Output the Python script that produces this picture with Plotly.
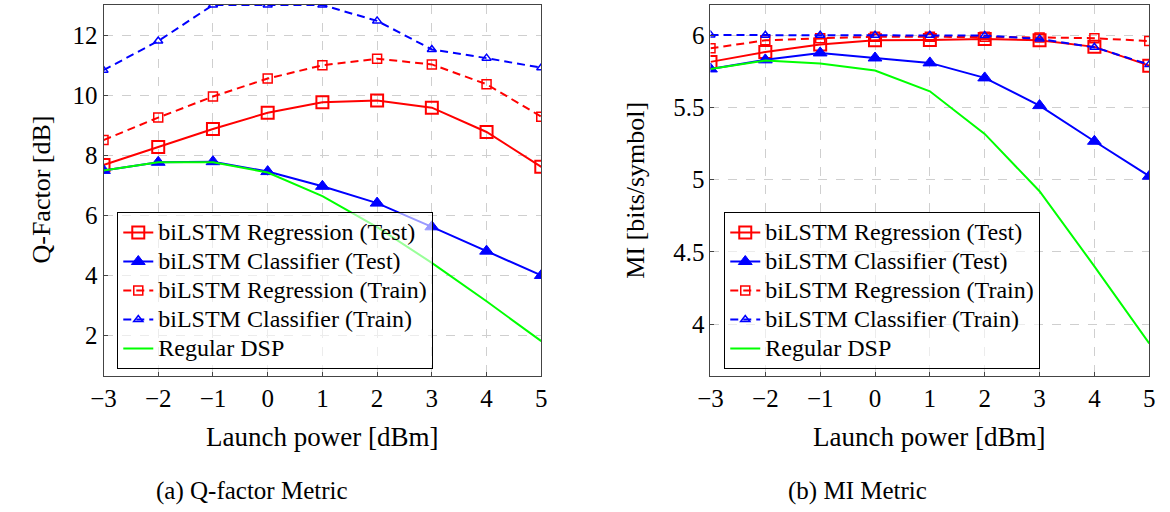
import plotly.graph_objects as go

# Launch power sweep [dBm]
launch_power = [-3, -2, -1, 0, 1, 2, 3, 4, 5]

# Q-factor [dB]
q_reg_test = [7.67, 8.27, 8.87, 9.41, 9.76, 9.82, 9.58, 8.77, 7.61]
q_cls_test = [7.49, 7.76, 7.78, 7.45, 6.96, 6.40, 5.61, 4.80, 3.99]
q_reg_train = [8.50, 9.25, 9.95, 10.55, 10.99, 11.21, 11.02, 10.36, 9.28]
q_cls_train = [10.83, 11.80, 13.0, 13.0, 13.0, 12.47, 11.52, 11.23, 10.91]
q_dsp = [7.49, 7.76, 7.76, 7.42, 6.63, 5.60, 4.41, 3.13, 1.80]

# Mutual information [bits/symbol]
mi_reg_test = [5.816, 5.885, 5.936, 5.965, 5.967, 5.975, 5.965, 5.920, 5.790]
mi_cls_test = [5.767, 5.830, 5.878, 5.843, 5.809, 5.705, 5.513, 5.266, 5.024]
mi_reg_train = [5.910, 5.965, 5.980, 5.990, 5.990, 5.990, 5.985, 5.980, 5.960]
mi_cls_train = [6.003, 6.000, 6.000, 6.000, 6.000, 5.998, 5.975, 5.917, 5.797]
mi_dsp = [5.767, 5.825, 5.804, 5.756, 5.612, 5.317, 4.920, 4.400, 3.865]

series_names = [
    "biLSTM Regression (Test)",
    "biLSTM Classifier (Test)",
    "biLSTM Regression (Train)",
    "biLSTM Classifier (Train)",
    "Regular DSP",
]

x_ticks = [-3, -2, -1, 0, 1, 2, 3, 4, 5]
x_ticktext = ["\u22123", "\u22122", "\u22121", "0", "1", "2", "3", "4", "5"]
q_ticks = [2, 4, 6, 8, 10, 12]
mi_ticks = [4, 4.5, 5, 5.5, 6]

RED = "#ff0000"
BLUE = "#0000ff"
GREEN = "#00ff00"
FONT = "Liberation Serif"
DASH = "8px,5px"

W, H = 1170, 512


def px_x(p):
    return p / W


def px_y(p):
    return 1 - p / H


def legend_label(text):
    # larger glyphs than the legend's base size, keeping the compact row pitch
    return '<span style="font-size:24px">' + text + "</span>"


styles = [
    dict(line=dict(color=RED, width=2),
         marker=dict(symbol="square-open", size=12, color=RED, line=dict(width=2, color=RED))),
    dict(line=dict(color=BLUE, width=2),
         marker=dict(symbol="triangle-up", size=12, color=BLUE, line=dict(width=1, color=BLUE))),
    dict(line=dict(color=RED, width=2, dash=DASH),
         marker=dict(symbol="square-open", size=9, color=RED, line=dict(width=1.5, color=RED))),
    dict(line=dict(color=BLUE, width=2, dash=DASH),
         marker=dict(symbol="triangle-up-open", size=8, color=BLUE, line=dict(width=1.5, color=BLUE))),
    dict(line=dict(color=GREEN, width=2), marker=None),
]

fig = go.Figure()

panels = [
    ("x", "y", "legend", [q_reg_test, q_cls_test, q_reg_train, q_cls_train, q_dsp]),
    ("x2", "y2", "legend2", [mi_reg_test, mi_cls_test, mi_reg_train, mi_cls_train, mi_dsp]),
]

for xa, ya, lg, data in panels:
    for name, vals, st in zip(series_names, data, styles):
        kw = dict(x=launch_power, y=vals, name=legend_label(name), xaxis=xa, yaxis=ya,
                  legend=lg, line=st["line"], cliponaxis=True)
        if st["marker"] is None:
            kw["mode"] = "lines"
        else:
            kw["mode"] = "lines+markers"
            kw["marker"] = st["marker"]
        fig.add_trace(go.Scatter(**kw))

axis_common = dict(
    showline=True, linecolor="#444444", linewidth=1, mirror=True,
    showgrid=True, gridcolor="#cfcfcf", gridwidth=1, griddash="dash",
    zeroline=False, ticks="inside", ticklen=4, tickcolor="#444444",
    tickfont=dict(family=FONT, size=25, color="black"),
)

y_top, y_bot = 5, 376

legend_common = dict(
    xanchor="left", yanchor="top",
    bgcolor="rgba(255,255,255,0.6)", bordercolor="black", borderwidth=1,
    font=dict(family=FONT, size=20, color="black"),
    tracegroupgap=0, itemwidth=30,
)

fig.update_layout(
    width=W, height=H,
    margin=dict(l=0, r=0, t=0, b=0),
    paper_bgcolor="white", plot_bgcolor="white",
    font=dict(family=FONT, color="black"),
    xaxis=dict(domain=[px_x(92), px_x(537)], range=[-3, 5], tickvals=x_ticks,
               ticktext=x_ticktext, anchor="y", **axis_common),
    yaxis=dict(domain=[px_y(y_bot), px_y(y_top)], range=[0.64, 13.0],
               tickvals=q_ticks, anchor="x", **axis_common),
    xaxis2=dict(domain=[px_x(709), px_x(1155)], range=[-3, 5], tickvals=x_ticks,
                ticktext=x_ticktext, anchor="y2", **axis_common),
    yaxis2=dict(domain=[px_y(y_bot), px_y(y_top)], range=[3.64, 6.21],
                tickvals=mi_ticks, ticktext=["4", "4.5", "5", "5.5", "6"],
                anchor="x2", **axis_common),
    legend=dict(x=px_x(106), y=px_y(212), **legend_common),
    legend2=dict(x=px_x(723), y=px_y(212), **legend_common),
    showlegend=True,
)

# Axis titles and sub-captions: (x px, y px, text, angle, size)
texts = [
    (314, 437, "Launch power [dBm]", 0, 27),
    (931, 437, "Launch power [dBm]", 0, 27),
    (28, 190, "Q-Factor [dB]", -90, 26),
    (632, 190, "MI [bits/symbol]", -90, 26),
    (243, 491, "(a) Q-factor Metric", 0, 25),
    (858, 491, "(b) MI Metric", 0, 25),
]
for x, y, t, ang, sz in texts:
    fig.add_annotation(x=px_x(x), y=px_y(y), xref="paper", yref="paper",
                       text=t, showarrow=False, textangle=ang,
                       xanchor="center", yanchor="middle",
                       font=dict(family=FONT, size=sz, color="black"))

fig.write_html("out.html")
